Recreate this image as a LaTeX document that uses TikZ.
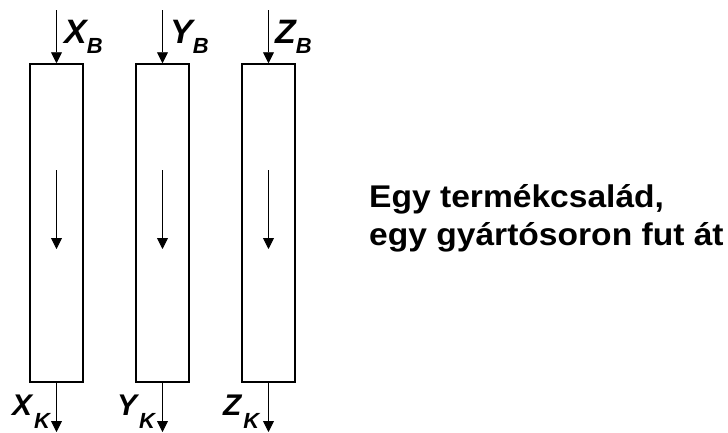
\documentclass[tikz,border=0pt]{standalone}
\usepackage{fontspec}
\setmainfont{Liberation Sans}
\newfontfamily\notefont[FakeStretch=1.07]{Liberation Sans}
\usetikzlibrary{arrows.meta}
\begin{document}
\begin{tikzpicture}[x=1bp,y=-1bp,
  line/.style={draw=black,minimum width=53bp,minimum height=318bp,line width=1.5bp,inner sep=0pt},
  flow/.style={draw=black,line width=0.9bp,-{Triangle[length=11bp,width=11bp]}},
  inlbl/.style={font=\fontsize{34}{34}\selectfont\bfseries\itshape,inner sep=0pt,anchor=base west},
  outlbl/.style={font=\fontsize{30}{30}\selectfont\bfseries\itshape,inner sep=0pt,anchor=base west},
  note/.style={font=\notefont\fontsize{31.5}{38}\selectfont\bfseries,inner sep=0pt,align=left,anchor=base west}]
\useasboundingbox (0,0) rectangle (728,432);
% three production lines
\node[line] (lx) at (56.5,223) {};
\node[line] (ly) at (162.5,223) {};
\node[line] (lz) at (268.5,223) {};
% feed and exit points
\foreach \n/\x in {x/56.5,y/162.5,z/268.5}{
  \coordinate (\n in) at (\x,10);
  \coordinate (\n out) at (\x,432);
  \coordinate (\n a) at (\x,170);
  \coordinate (\n b) at (\x,249);
  \draw[flow] (\n in) -- (l\n.north);
  \draw[flow] (l\n.south) -- (\n out);
  \draw[flow] (\n a) -- (\n b);
}
% labels
\newcommand{\inlbl}[2]{#1\raisebox{-10bp}{\fontsize{22}{22}\selectfont #2}}
\newcommand{\outlbl}[2]{#1\kern2bp\raisebox{-13bp}{\fontsize{22}{22}\selectfont #2}}
\node[inlbl] (xb) at (64,43) {\inlbl{X}{B}};
\node[inlbl] (yb) at (170,43) {\inlbl{Y}{B}};
\node[inlbl] (zb) at (275,43) {\inlbl{Z}{B}};
\node[outlbl] (xk) at (12,415) {\outlbl{X}{K}};
\node[outlbl] (yk) at (117,415) {\outlbl{Y}{K}};
\node[outlbl] (zk) at (223,415) {\outlbl{Z}{K}};
\node[note] (txt) at (369,245) {Egy termékcsalád,\\egy gyártósoron fut át};
\end{tikzpicture}
\end{document}
